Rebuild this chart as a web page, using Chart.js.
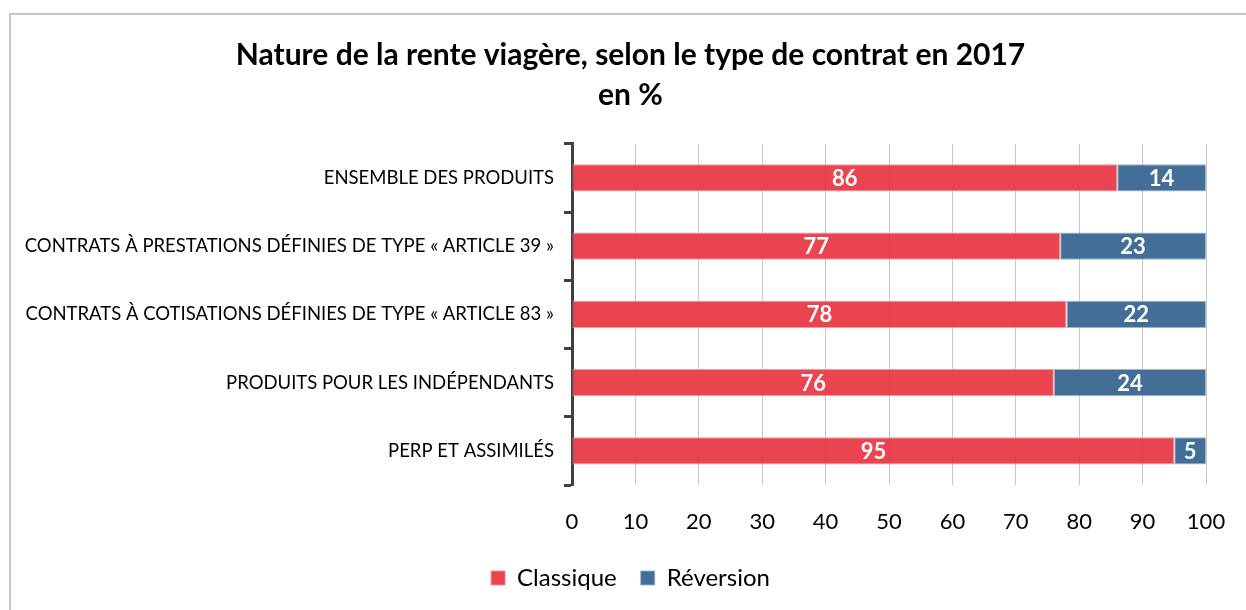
<!DOCTYPE html>
<html>
<head>
<meta charset="utf-8">
<script src="https://cdn.jsdelivr.net/npm/chart.js@4/dist/chart.umd.min.js"></script>
<style>
html,body{margin:0;padding:0;background:#fff;overflow:hidden;width:1246px;height:610px;}
#box{position:absolute;left:9px;top:13px;width:1246px;height:600px;border-left:2px solid #c6c6c6;border-top:2px solid #c6c6c6;box-sizing:border-box;}
#chart{position:absolute;left:9px;top:13px;}
</style>
</head>
<body>
<div id="box"></div>
<canvas id="chart" width="1246" height="600"></canvas>
<script>
const categories=[
'ENSEMBLE DES PRODUITS',
'CONTRATS À PRESTATIONS DÉFINIES DE TYPE « ARTICLE 39 »',
'CONTRATS À COTISATIONS DÉFINIES DE TYPE « ARTICLE 83 »',
'PRODUITS POUR LES INDÉPENDANTS',
'PERP ET ASSIMILÉS'
];
const classique=[86,77,78,76,95];
const reversion=[14,23,22,24,5];
const seriesNames=['Classique','Réversion'];

const font="Lato, 'Open Sans', sans-serif";

// white numbers in the middle of each bar
const barLabels={
id:'barLabels',
afterDatasetsDraw(chart)
{
const ctx=chart.ctx;
ctx.save();
ctx.fillStyle='#fff';
ctx.font="bold 22px "+font;
ctx.textAlign='center';
ctx.textBaseline='middle';
chart.data.datasets.forEach((ds,i)=>
{
const meta=chart.getDatasetMeta(i);
meta.data.forEach((bar,j)=>
{
const p=bar.getCenterPoint();
ctx.fillText(ds.data[j],p.x,p.y+1);
});
});
ctx.restore();
}
};

new Chart(document.getElementById('chart'),
{
type:'bar',
data:{
labels:categories,
datasets:[
{
label:seriesNames[0],
data:classique,
backgroundColor:'rgba(232,58,70,0.95)',
borderColor:'rgba(245,140,148,0.9)',
borderWidth:1,
borderSkipped:false,
barPercentage:0.4,
categoryPercentage:1
},
{
label:seriesNames[1],
data:reversion,
backgroundColor:'rgba(60,105,148,0.97)',
borderColor:'rgba(150,175,200,0.9)',
borderWidth:1,
borderSkipped:false,
barPercentage:0.4,
categoryPercentage:1
}]
},
options:{
animation:false,
responsive:false,
indexAxis:'y',
layout:{padding:{left:10,right:13,top:0,bottom:13}},
plugins:{
title:{
display:true,
text:['Nature de la rente viagère, selon le type de contrat en 2017','en %'],
color:'#000',
font:{family:font,size:30,weight:'bold',lineHeight:1.33},
padding:{top:22,bottom:29}
},
legend:{
position:'bottom',
labels:{
color:'#000',
font:{family:font,size:24},
boxWidth:14,
boxHeight:14,
padding:24
}
},
tooltip:{enabled:false}
},
scales:{
x:{
stacked:true,
min:0,
max:100,
afterFit:(s)=>{s.height=57;},
ticks:{stepSize:10,color:'#000',font:{family:font,size:22},padding:24},
grid:{color:'#c8c8c8',lineWidth:1,drawTicks:false},
border:{display:false}
},
y:{
stacked:true,
afterFit:(s)=>{s.width=553;},
ticks:{color:'#000',font:{family:font,size:18.5},padding:10},
grid:{drawOnChartArea:false,drawTicks:true,tickLength:8,tickColor:'#404040',tickWidth:3},
border:{display:true,color:'#404040',width:3}
},
// empty space on the right so the title stays centred
spare:{
type:'linear',
axis:'y',
position:'right',
afterFit:(s)=>{s.width=36;},
ticks:{display:false},
grid:{display:false},
border:{display:false}
}
}
},
plugins:[barLabels]
});
</script>
</body>
</html>
